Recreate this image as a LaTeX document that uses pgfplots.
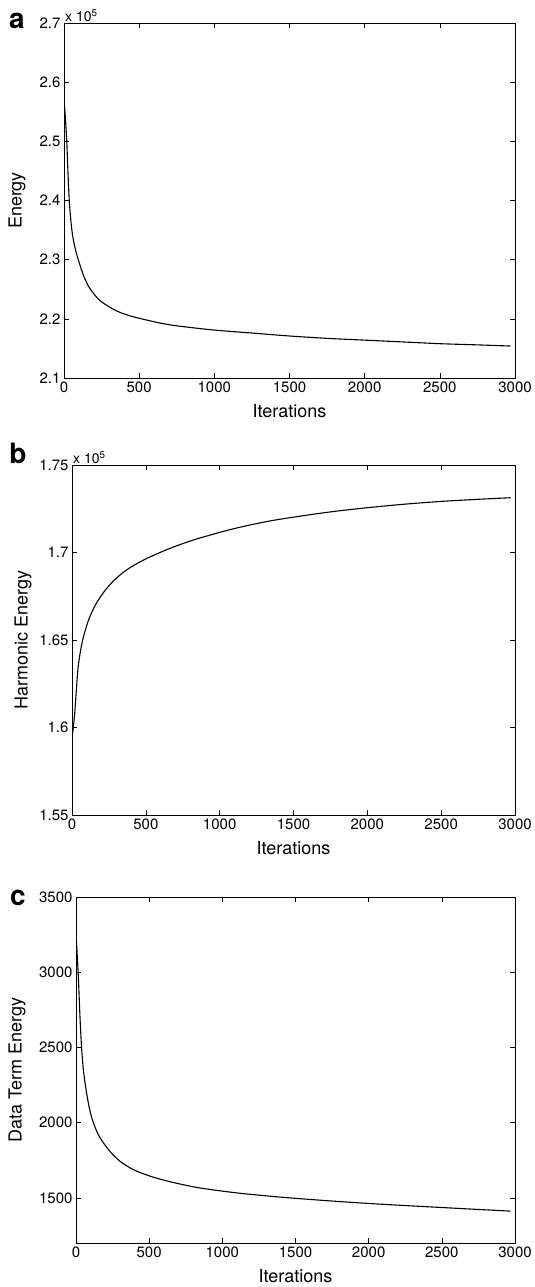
\documentclass[border=0pt]{standalone}
\usepackage{fontspec}
\setmainfont{TeX Gyre Heros}
\usepackage{pgfplots}
\pgfplotsset{compat=1.18}

\pgfplotsset{
  mlab/.style={
    scale only axis,
    xmin=0, xmax=3000,
    xtick={0,500,1000,1500,2000,2500,3000},
    tick pos=both,
    tick align=inside,
    major tick length=5pt,
    axis line style={line width=0.9pt},
    every tick/.style={black, line width=0.5pt},
    tick label style={font=\fontsize{15}{17}\selectfont},
    /pgf/number format/assume math mode=true,
    /pgf/number format/1000 sep={},
    scaled y ticks=false,
  },
  curve/.style={black, line width=1.1pt, smooth, tension=0.5},
}
\newcommand{\lab}{\fontsize{18}{20}\selectfont}

\begin{document}
\begin{tikzpicture}
\path[use as bounding box] (0pt,0pt) rectangle (535pt,-1287pt);

% a: energy
\begin{axis}[mlab, name=A, at={(64pt,-378pt)}, anchor=south west,
  width=451pt, height=355pt,
  ymin=2.1, ymax=2.7, ytick={2.1,2.2,2.3,2.4,2.5,2.6,2.7}]
\addplot[curve] coordinates {
(0,2.572) (9,2.54) (18,2.502) (26,2.45) (35,2.40) (45,2.368) (55,2.345)
(65,2.330) (80,2.313) (95,2.300) (115,2.284) (135,2.270) (161,2.256)
(190,2.245) (230,2.233) (271,2.225) (330,2.216) (381,2.210) (440,2.205)
(500,2.201) (601,2.195) (700,2.190) (821,2.186) (1000,2.181) (1250,2.176)
(1500,2.171) (1750,2.167) (2000,2.164) (2250,2.161) (2500,2.158)
(2750,2.156) (2970,2.154)
};
\end{axis}
\node[anchor=south west, inner sep=1pt, font=\fontsize{14}{16}\selectfont]
  at (A.north west) {x 10\textsuperscript{5}};
\node[rotate=90, font=\lab] at ([xshift=-47pt]A.west) {Energy};
\node[font=\lab] at ([yshift=-33pt]A.south) {Iterations};
\node[font=\fontsize{28}{30}\selectfont\bfseries] at (17pt,-21pt) {a};

% b: harmonic energy
\begin{axis}[mlab, name=B, at={(72pt,-815pt)}, anchor=south west,
  width=443pt, height=350pt,
  ymin=1.55, ymax=1.75, ytick={1.55,1.6,1.65,1.7,1.75}]
\addplot[curve] coordinates {
(0,1.5943) (9,1.600) (18,1.6077) (30,1.622) (41,1.634) (58,1.644)
(75,1.651) (90,1.6555) (108,1.6605) (140,1.667) (176,1.6725) (230,1.679)
(290,1.6845) (345,1.6885) (402,1.6918) (460,1.6946) (516,1.6970)
(580,1.6994) (629,1.7012) (740,1.7048) (855,1.7080) (1081,1.7133)
(1307,1.7175) (1500,1.7202) (1750,1.7232) (2000,1.7256) (2250,1.7276)
(2500,1.7292) (2750,1.7304) (2970,1.7313)
};
\end{axis}
\node[anchor=south west, inner sep=1pt, font=\fontsize{14}{16}\selectfont]
  at (B.north west) {x 10\textsuperscript{5}};
\node[rotate=90, font=\lab] at ([xshift=-49pt]B.west) {Harmonic Energy};
\node[font=\lab] at ([yshift=-33pt]B.south) {Iterations};
\node[font=\fontsize{28}{30}\selectfont\bfseries] at (18pt,-453pt) {b};

% c: data term energy
\begin{axis}[mlab, name=C, at={(76pt,-1243pt)}, anchor=south west,
  width=439pt, height=346pt,
  ymin=1200, ymax=3500, ytick={1500,2000,2500,3000,3500}]
\addplot[curve] coordinates {
(0,3257) (8,3120) (16,2973) (27,2708) (38,2500) (50,2355) (67,2230)
(84,2133) (100,2060) (119,1998) (150,1925) (187,1866) (240,1800)
(301,1743) (360,1705) (416,1677) (530,1637) (644,1607) (760,1582)
(872,1562) (1100,1533) (1329,1511) (1500,1497) (1750,1479) (2000,1463)
(2250,1449) (2500,1436) (2750,1423) (2970,1412)
};
\end{axis}
\node[rotate=90, font=\lab] at ([xshift=-59pt]C.west) {Data Term Energy};
\node[font=\lab] at ([yshift=-33pt]C.south) {Iterations};
\node[font=\fontsize{28}{30}\selectfont\bfseries] at (18pt,-898pt) {c};
\end{tikzpicture}
\end{document}
